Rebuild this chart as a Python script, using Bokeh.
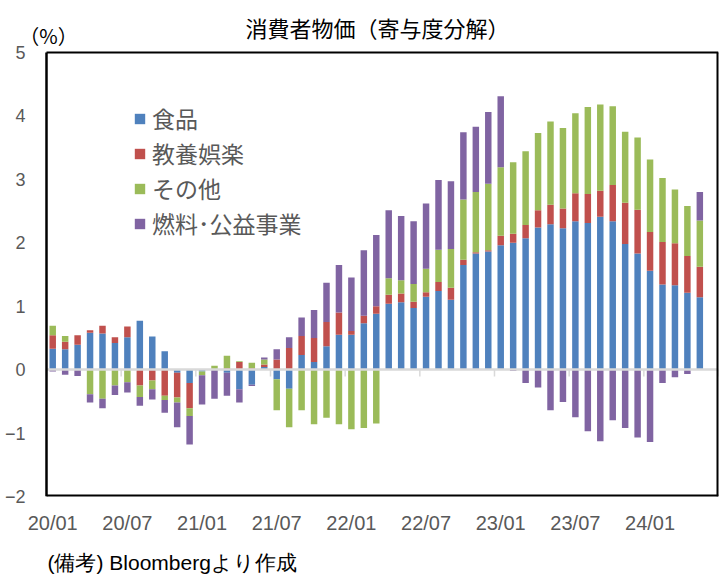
import numpy as np
from bokeh.plotting import figure
from bokeh.models import (ColumnDataSource, Range1d, FixedTicker, Label, Title,
                          Legend, LegendItem)
from bokeh.embed import file_html
from bokeh.resources import INLINE

# ---- data (contribution to CPI y/y, %pt), monthly 2020/01 - 2024/05 ----
tick_labels = ["20/01", "20/07", "21/01", "21/07", "22/01", "22/07", "23/01", "23/07", "24/01"]

series_names = ["食品", "教養娯楽", "その他", "燃料･公益事業"]

food = [0.33, 0.32, 0.39, 0.58, 0.57, 0.42, 0.51, 0.77, 0.52, 0.29, -0.05, -0.21,
        -0.03, 0.00, -0.05, -0.31, -0.24, 0.04, -0.15, -0.30, 0.23, 0.12, 0.37, 0.55,
        0.55, 0.73, 0.88, 1.04, 1.06, 0.97, 1.15, 1.24, 1.10, 1.65, 1.83, 1.86,
        1.96, 2.00, 2.07, 2.24, 2.29, 2.23, 2.34, 2.31, 2.41, 2.34, 1.98, 1.83,
        1.56, 1.34, 1.33, 1.21, 1.14]

recreation = [0.21, 0.12, 0.15, 0.04, 0.12, 0.09, 0.17, -0.25, -0.17, -0.41, -0.39, -0.40,
              0.00, 0.00, 0.02, 0.12, 0.02, 0.04, 0.16, 0.34, 0.30, 0.38, 0.38, 0.35,
              0.06, 0.12, 0.12, 0.14, 0.14, 0.10, 0.07, 0.14, 0.19, 0.08, 0.02, 0.02,
              0.15, 0.14, 0.21, 0.27, 0.31, 0.31, 0.44, 0.46, 0.41, 0.57, 0.65, 0.69,
              0.61, 0.67, 0.66, 0.58, 0.48]

other = [0.15, 0.09, 0.00, -0.39, -0.46, -0.25, -0.20, -0.18, -0.14, -0.07, -0.08, -0.12,
         -0.06, 0.06, 0.20, 0.01, 0.09, 0.08, -0.49, -0.61, -0.64, -0.86, -0.76, -0.86,
         -0.94, -0.92, -0.85, 0.26, 0.21, 0.28, 0.37, 0.51, 0.61, 0.95, 0.95, 1.05,
         1.08, 1.13, 1.16, 1.22, 1.31, 1.27, 1.26, 1.37, 1.36, 1.24, 1.12, 1.14,
         1.14, 1.01, 0.85, 0.79, 0.73]

fuel = [-0.03, -0.08, -0.10, -0.13, -0.15, -0.15, -0.16, -0.14, -0.16, -0.20, -0.39, -0.45,
        -0.46, -0.46, -0.36, -0.21, -0.02, 0.03, 0.16, 0.17, 0.29, 0.44, 0.62, 0.75,
        0.84, 1.03, 1.12, 1.07, 1.01, 0.99, 1.03, 1.10, 1.07, 1.06, 1.03, 1.13,
        1.12, -0.02, -0.21, -0.28, -0.64, -0.51, -0.75, -0.97, -1.13, -0.80, -0.92, -1.07,
        -1.14, -0.21, -0.12, -0.07, 0.45]

colors = ["#4F81BD", "#C0504D", "#9BBB59", "#8064A2"]

JP = "Noto Sans CJK JP"
LAT = "Liberation Sans"
GRAY = "#595959"

n = len(food)
n_slots = 54           # the category axis holds 54 monthly slots (last one empty)
x = np.arange(n)
x_lo, x_hi = -0.5, n_slots - 0.5
y_lo, y_hi = -2, 5

# frame is extended left/up so that the title and unit text can live inside it;
# the chart box itself is drawn at the real axis limits.
p = figure(width=726, height=586,
           x_range=Range1d(x_lo - 1.607, x_hi), y_range=Range1d(y_lo, y_hi + 0.818),
           output_backend="svg", toolbar_location=None,
           min_border_left=26, min_border_right=8,
           min_border_top=0, min_border_bottom=89)
p.title = None
p.background_fill_color = "white"
p.border_fill_color = "white"
p.outline_line_color = None
p.grid.visible = False

# stacked bars: positives stack upward, negatives stack downward (Excel style)
pos = np.zeros(n)
neg = np.zeros(n)
renderers = []
for name, vals, c in zip(series_names, [food, recreation, other, fuel], colors):
    v = np.array(vals, dtype=float)
    bottom = np.where(v >= 0, pos, neg)
    top = bottom + v
    pos = np.where(v >= 0, top, pos)
    neg = np.where(v < 0, top, neg)
    src = ColumnDataSource(dict(x=x, top=top, bottom=bottom))
    r = p.vbar(x="x", top="top", bottom="bottom", width=0.52, source=src,
               fill_color=c, line_color=None)
    renderers.append(r)

# zero line with category tick marks
p.segment(x0=x_lo, y0=0, x1=x_hi, y1=0, line_color="#D9D9D9", line_width=2.5)
tick_pos = np.arange(x_lo, n_slots, 6)
p.segment(x0=tick_pos, y0=0, x1=tick_pos, y1=-0.11, line_color="#D9D9D9", line_width=1.5)

# chart box
p.segment(x0=[x_lo, x_lo, x_hi, x_lo], y0=[y_lo, y_hi, y_lo, y_lo],
          x1=[x_lo, x_hi, x_hi, x_hi], y1=[y_hi, y_hi, y_hi, y_lo],
          line_color="black", line_width=[2.5, 2, 4, 4])

# x axis (labels at bottom)
xt = list(range(0, n, 6))
p.xaxis.ticker = FixedTicker(ticks=xt)
p.xaxis.major_label_overrides = {t: lab for t, lab in zip(xt, tick_labels)}
p.xaxis.axis_line_color = None
p.xaxis.major_tick_line_color = None
p.xaxis.minor_tick_line_color = None
p.xaxis.major_tick_out = 0
p.xaxis.major_label_standoff = 15
p.xaxis.major_label_text_font = LAT
p.xaxis.major_label_text_font_size = "20px"
p.xaxis.major_label_text_color = GRAY

# y axis
yt = list(range(y_lo, y_hi + 1))
p.yaxis.ticker = FixedTicker(ticks=yt)
p.yaxis.major_label_overrides = {t: ("−" + str(-t) if t < 0 else str(t)) for t in yt}
p.yaxis.axis_line_color = None
p.yaxis.major_tick_line_color = None
p.yaxis.minor_tick_line_color = None
p.yaxis.major_tick_out = 0
p.yaxis.major_label_standoff = 1
p.yaxis.major_label_text_font = LAT
p.yaxis.major_label_text_font_size = "18px"
p.yaxis.major_label_text_color = GRAY

# texts
p.add_layout(Label(x=26.1, y=5.394, text="消費者物価（寄与度分解）", text_align="center",
                   text_baseline="middle", text_font=JP, text_font_size="22px",
                   text_color="black"))
p.add_layout(Label(x=-2.68, y=5.26, text="（%）", text_align="left",
                   text_baseline="middle", text_font=JP, text_font_size="20px",
                   text_color="black"))
p.add_layout(Title(text="(備考) Bloombergより作成", align="left", offset=21, standoff=25,
                   text_font=LAT, text_font_size="21px", text_font_style="normal",
                   text_color="black"), "below")

legend = Legend(items=[LegendItem(label=nm, renderers=[r]) for nm, r in zip(series_names, renderers)],
                location=(107, 256), border_line_color=None, background_fill_alpha=0,
                label_text_font=JP, label_text_font_size="23px", label_text_color=GRAY,
                glyph_width=13, glyph_height=13, spacing=1, padding=0, margin=0,
                label_standoff=6)
p.add_layout(legend)

open("out.html", "w").write(file_html(p, INLINE))
